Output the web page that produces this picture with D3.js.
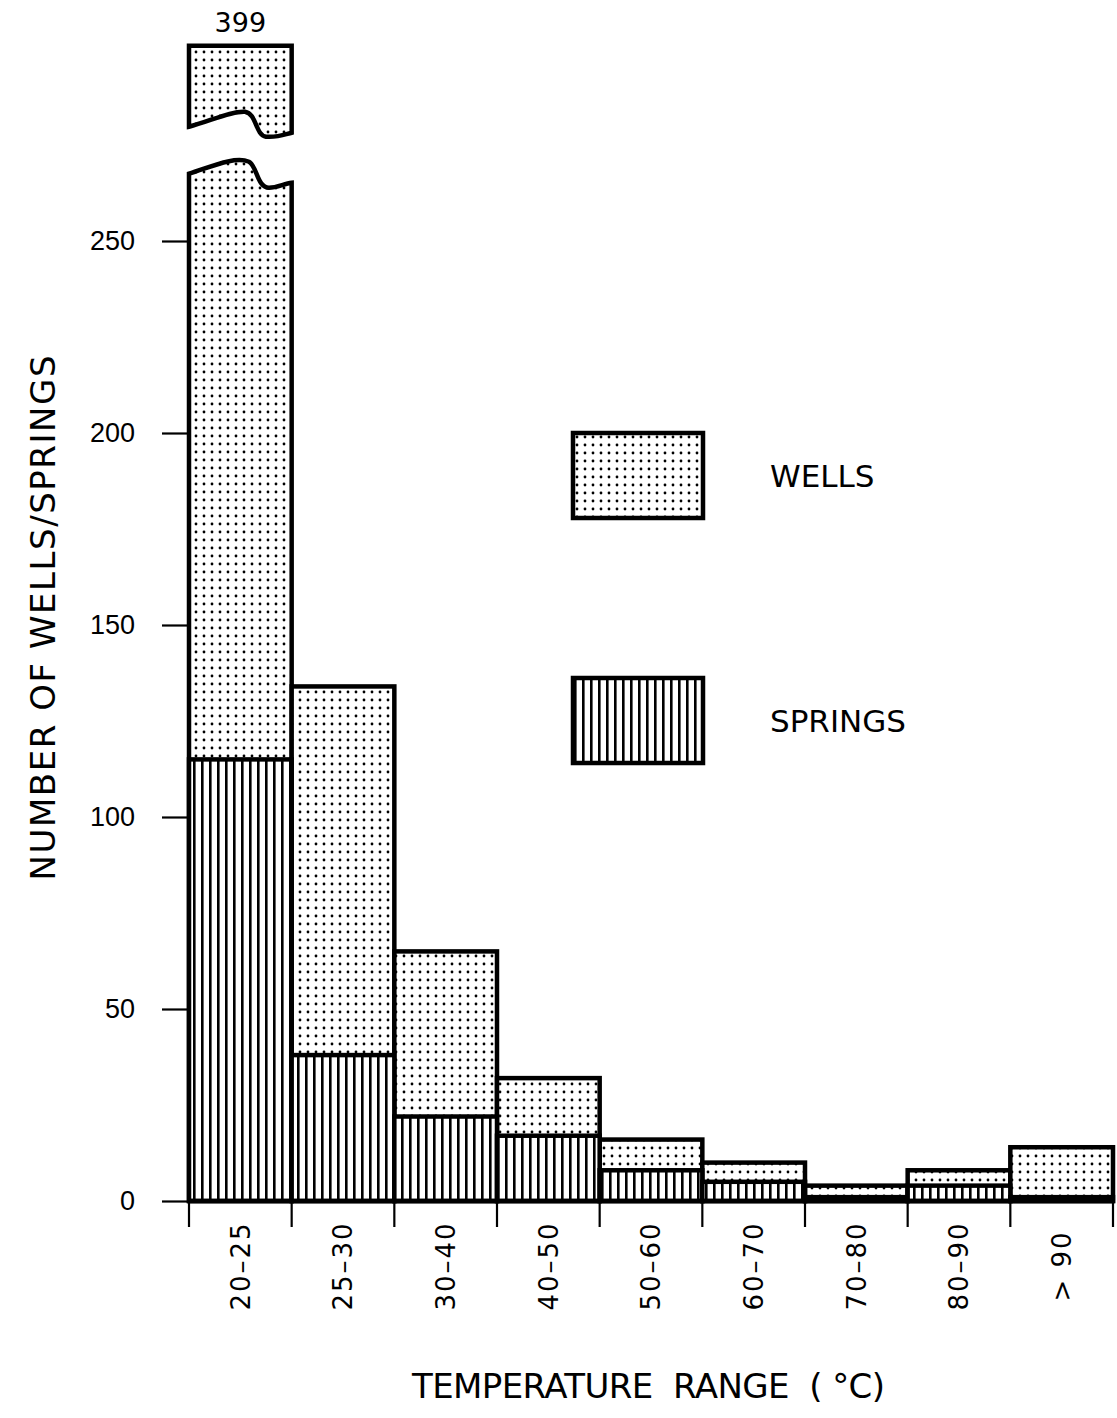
<!DOCTYPE html>
<html>
<head>
<meta charset="utf-8">
<title>Wells and springs by temperature range</title>
<style>
	html, body { margin:0; padding:0; background:#fff; }
	body { font-family: "DejaVu Sans", "Liberation Sans", Arial, sans-serif; }
	.bar { stroke:#000; stroke-width:4.5px; stroke-linejoin:miter; }
	.tk { stroke:#000; stroke-width:2.2px; }
	.ylab { font-size:27px; fill:#000; }
	.xlab { font-size:26px; fill:#000; letter-spacing:2px; }
	.title { font-size:34px; fill:#000; white-space:pre; }
	.legtxt { font-size:31px; fill:#000; }
</style>
<script src="https://d3js.org/d3.v7.min.js"></script>
</head>
<body>
<svg id="chart"></svg>
<script>

// data
var ranges = ["20–25","25–30","30–40","40–50","50–60","60–70","70–80","80–90","> 90"];
var wells = [399,134,65,32,16,10,4,8,14];
var springs = [115,38,22,17,8,5,1,4,1];
var yTicks = [0,50,100,150,200,250];
var breakAt = 267;   // value where the 20-25 wells bar is broken
var legendItems = ["WELLS","SPRINGS"];

var W = 1117, H = 1418;
var svg = d3.select("#chart").attr("width", W).attr("height", H);
svg.append("rect").attr("width", W).attr("height", H).attr("fill", "#fff");

//patterns
var defs = svg.append("defs");
var pd = defs.append("pattern").attr("id","dots").attr("patternUnits","userSpaceOnUse")
	.attr("width",8).attr("height",8);
pd.append("rect").attr("width",8).attr("height",8).attr("fill","#fff");
pd.append("circle").attr("cx",4).attr("cy",4).attr("r",1.4).attr("fill","#000");
var pl = defs.append("pattern").attr("id","vlines").attr("patternUnits","userSpaceOnUse")
	.attr("width",8).attr("height",8);
pl.append("rect").attr("width",8).attr("height",8).attr("fill","#fff");
pl.append("rect").attr("x",1).attr("width",2.6).attr("height",8).attr("fill","#000");

//scales
var x = d3.scaleBand().domain(ranges).range([189, 1113]).padding(0);
var y = d3.scaleLinear().domain([0, 250]).range([1201, 241]);
var bw = x.bandwidth();

var g = svg.append("g");

//wells bars
ranges.forEach(function(r, i){
	var x0 = x(r);
	if (wells[i] > breakAt) {
		var y0 = y(0), yb = y(breakAt), w = bw;
		var lower = "M"+x0+","+y0+" L"+x0+","+(yb-2)
			+" C"+(x0+20)+","+(yb-8)+" "+(x0+45)+","+(yb-20)+" "+(x0+60)+","+(yb-14)
			+" C"+(x0+68)+","+(yb-10)+" "+(x0+68)+","+(yb+12)+" "+(x0+80)+","+(yb+12)
			+" C"+(x0+88)+","+(yb+12)+" "+(x0+95)+","+(yb+8)+" "+(x0+w)+","+(yb+7)
			+" L"+(x0+w)+","+y0+" Z";
		g.append("path").attr("class","bar").attr("d", lower).attr("fill","url(#dots)");
		var ub = yb - 49, ut = yb - 130;
		var upper = "M"+x0+","+ut+" L"+(x0+w)+","+ut+" L"+(x0+w)+","+(ub+6)
			+" C"+(x0+95)+","+(ub+8)+" "+(x0+88)+","+(ub+11)+" "+(x0+77)+","+(ub+10)
			+" C"+(x0+66)+","+(ub+8)+" "+(x0+68)+","+(ub-13)+" "+(x0+56)+","+(ub-15)
			+" C"+(x0+42)+","+(ub-16)+" "+(x0+20)+","+(ub-5)+" "+x0+","+ub+" Z";
		g.append("path").attr("class","bar").attr("d", upper).attr("fill","url(#dots)");
		g.append("text").attr("x", x0 + w/2).attr("y", ut - 14).attr("text-anchor","middle")
			.style("font-size","27px").text(wells[i]);
	} else {
		g.append("rect").attr("class","bar").attr("x", x0).attr("y", y(wells[i]))
			.attr("width", bw).attr("height", y(0) - y(wells[i])).attr("fill","url(#dots)");
	}
});

//springs bars
g.selectAll("rect.spr").data(springs).enter().append("rect")
	.attr("class","bar spr")
	.attr("x", function(d,i){ return x(ranges[i]); })
	.attr("y", function(d){ return y(d); })
	.attr("width", bw)
	.attr("height", function(d){ return y(0) - y(d); })
	.attr("fill","url(#vlines)");

//baseline
g.append("line").attr("x1", 189).attr("x2", 1113).attr("y1", y(0)).attr("y2", y(0))
	.attr("stroke","#000").attr("stroke-width",4.5);

//y axis
var yAxis = svg.append("g").attr("transform","translate(189,0)")
	.call(d3.axisLeft(y).tickValues(yTicks).tickSize(27).tickPadding(27));
yAxis.select(".domain").remove();
yAxis.selectAll(".tick line").attr("class","tk").attr("x2",-27).attr("x1",-1);
yAxis.selectAll(".tick text").attr("class","ylab").attr("font-family",null).attr("font-size",null);

//x ticks at bin boundaries
var bounds = ranges.map(function(r){ return x(r); }).concat([x(ranges[ranges.length-1]) + bw]);
svg.selectAll("line.xt").data(bounds).enter().append("line").attr("class","tk xt")
	.attr("x1", function(d){ return d; }).attr("x2", function(d){ return d; })
	.attr("y1", y(0)).attr("y2", y(0) + 26);

svg.selectAll("text.xlab").data(ranges).enter().append("text").attr("class","xlab")
	.attr("transform", function(d){ return "translate(" + (x(d) + bw/2) + ",1266) rotate(-90)"; })
	.attr("text-anchor","middle").attr("dy","0.36em")
	.text(function(d){ return d; });

//axis titles
svg.append("text").attr("class","title")
	.attr("transform","translate(55,618) rotate(-90)")
	.attr("text-anchor","middle")
	.attr("textLength",525).attr("lengthAdjust","spacing")
	.text("NUMBER OF WELLS/SPRINGS");
svg.append("text").attr("class","title")
	.attr("x", 412).attr("y", 1398)
	.attr("textLength",473).attr("lengthAdjust","spacing")
	.text("TEMPERATURE  RANGE  ( °C)");

//legend
var legY = d3.scalePoint().domain(legendItems).range([433, 678]);
var lg = svg.selectAll("g.leg").data(legendItems).enter().append("g").attr("class","leg")
	.attr("transform", function(d){ return "translate(573," + legY(d) + ")"; });
lg.append("rect").attr("class","bar").attr("width",130).attr("height",85)
	.attr("fill", function(d,i){ return i === 0 ? "url(#dots)" : "url(#vlines)"; });
lg.append("text").attr("class","legtxt").attr("x",197).attr("y",54)
	.text(function(d){ return d; });

</script>
</body>
</html>
